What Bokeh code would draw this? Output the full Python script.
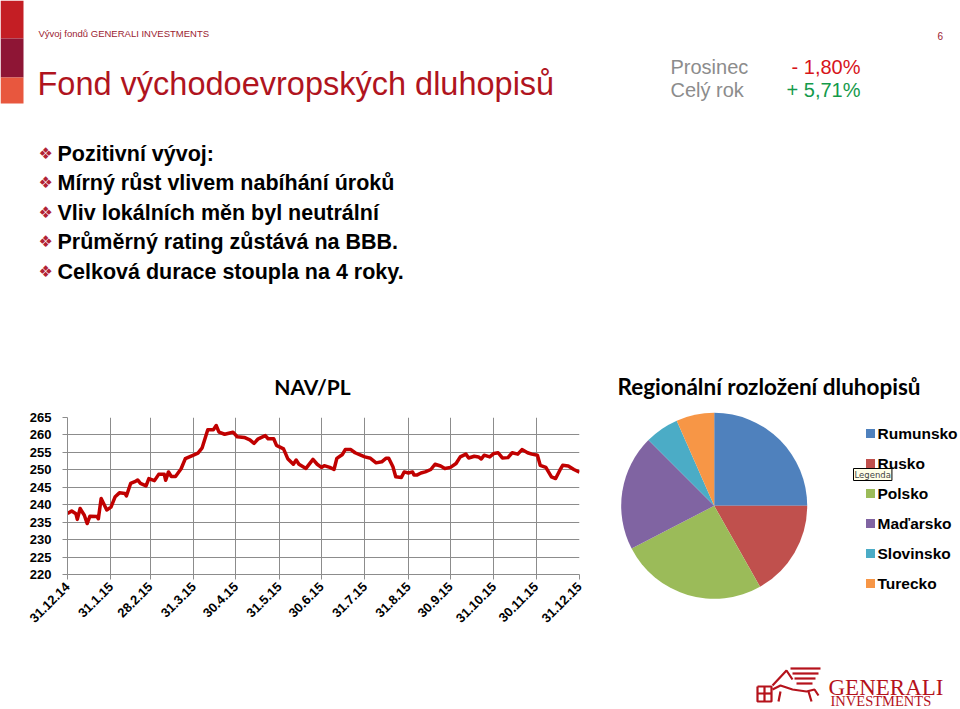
import numpy as np
import pandas as pd
from bokeh.plotting import figure
from bokeh.layouts import column, row
from bokeh.models import Range1d, FixedTicker, Label
from bokeh.core.properties import value
from bokeh.embed import file_html
from bokeh.resources import INLINE

# ---------------- data ----------------
header_small = "Vývoj fondů GENERALI INVESTMENTS"
page_title = "Fond východoevropských dluhopisů"
page_no = "6"
perf_labels = ["Prosinec", "Celý rok"]
perf_values = ["- 1,80%", "+ 5,71%"]
perf_colors = ["#D7141A", "#159A4B"]
bullets = [
    "Pozitivní vývoj:",
    "Mírný růst vlivem nabíhání úroků",
    "Vliv lokálních měn byl neutrální",
    "Průměrný rating zůstává na BBB.",
    "Celková durace stoupla na 4 roky.",
]
line_title = "NAV/PL"
pie_title = "Regionální rozložení dluhopisů"

# NAV/PL: days since 31.12.2014 and value
nav_days = [0, 3, 6, 7, 9, 12, 14, 16, 21, 22, 24, 28, 31, 34, 37, 41, 42, 45, 48, 50,
            52, 56, 58, 62, 65, 69, 70, 72, 74, 77, 81, 84, 89, 93, 96, 100, 104, 106, 108, 112,
            115, 118, 121, 126, 130, 133, 136, 141, 143, 147, 149, 154, 157, 161, 163, 165, 170, 175, 178, 181,
            183, 187, 190, 192, 196, 198, 202, 205, 209, 212, 216, 220, 224, 227, 229, 232, 234, 238, 240, 243,
            246, 247, 249, 252, 255, 259, 262, 266, 269, 273, 277, 280, 284, 286, 290, 293, 295, 297, 301, 304,
            307, 310, 314, 317, 321, 324, 328, 331, 335, 337, 341, 345, 348, 351, 353, 357, 361, 365]
nav_values = [237.5, 238.2, 237.4, 235.8, 238.9, 237.0, 234.6, 236.7, 236.6, 236.0, 241.8, 238.5, 239.3, 242.3, 243.4, 243.2, 242.5, 246.1, 246.6, 247.1,
              246.1, 245.4, 247.5, 246.9, 248.7, 248.7, 247.0, 249.4, 248.1, 248.1, 250.3, 253.2, 254.1, 254.8, 256.3, 261.5, 261.5, 262.7, 260.8, 260.2,
              260.5, 260.8, 259.5, 259.3, 258.6, 257.6, 258.9, 259.8, 258.9, 258.9, 257.0, 256.0, 253.2, 251.6, 252.8, 251.6, 250.4, 253.0, 251.6, 250.7,
              251.2, 250.7, 250.1, 253.3, 254.4, 255.8, 255.8, 254.9, 254.2, 253.7, 253.3, 252.0, 252.3, 253.3, 253.3, 250.9, 248.0, 247.8, 249.4, 249.1,
              249.4, 248.5, 248.5, 249.1, 249.4, 250.1, 251.6, 251.1, 250.4, 250.7, 251.8, 253.7, 254.5, 253.4, 253.9, 253.7, 253.1, 254.2, 253.7, 254.7,
              254.9, 253.4, 253.5, 254.9, 254.5, 255.8, 254.9, 254.5, 254.2, 251.3, 250.7, 248.0, 247.5, 249.9, 251.3, 251.1, 250.1, 249.3]
start_date = "2014-12-31"
tick_dates = ["2014-12-31", "2015-01-31", "2015-02-28", "2015-03-31", "2015-04-30", "2015-05-31", "2015-06-30",
              "2015-07-31", "2015-08-31", "2015-09-30", "2015-10-31", "2015-11-30", "2015-12-31"]
tick_labels = ["31.12.14", "31.1.15", "28.2.15", "31.3.15", "30.4.15", "31.5.15", "30.6.15",
               "31.7.15", "31.8.15", "30.9.15", "31.10.15", "30.11.15", "31.12.15"]
y_ticks = [220, 225, 230, 235, 240, 245, 250, 255, 260, 265]

regions = ["Rumunsko", "Rusko", "Polsko", "Maďarsko", "Slovinsko", "Turecko"]
shares = [25.0, 16.8, 25.6, 20.1, 5.9, 6.6]
region_colors = ["#4F81BD", "#C0504D", "#9BBB59", "#8064A2", "#4BACC6", "#F79646"]

SANS = value("Liberation Sans")

# ---------------- top text panel ----------------
top = figure(width=960, height=400, x_range=Range1d(0, 960), y_range=Range1d(400, 0),
             output_backend="svg", toolbar_location=None, min_border=0,
             x_axis_location=None, y_axis_location=None)
top.grid.visible = False
top.outline_line_color = None
top.frame_align = False

top.quad(left=0, right=23, top=[0, 38, 77], bottom=[38, 77, 103],
         color=["#C41E24", "#8E1535", "#E8573E"], line_color=None)
top.text(x=[38], y=[33], text=[header_small], text_font=SANS, text_font_size="9.5px",
         text_color="#9B1B30", text_baseline="middle")
top.text(x=[937], y=[35], text=[page_no], text_font=SANS, text_font_size="10px",
         text_color="#9B1B30", text_baseline="middle")
top.text(x=[37], y=[83], text=[page_title], text_font=SANS, text_font_size="32.5px",
         text_color="#B0141E", text_baseline="middle")
top.text(x=[670, 670], y=[66, 89], text=perf_labels, text_font=SANS, text_font_size="20px",
         text_color="#8C8C8C", text_baseline="middle")
top.text(x=[860, 860], y=[66, 89], text=perf_values, text_font=SANS, text_font_size="20px",
         text_color=perf_colors, text_baseline="middle", text_align="right")
bullet_y = [153, 182, 212, 241, 271]
top.text(x=[38] * len(bullets), y=bullet_y, text=["❖"] * len(bullets), text_font=value("DejaVu Sans"),
         text_font_size="16px", text_color="#B22234", text_baseline="middle")
top.text(x=[57] * len(bullets), y=bullet_y, text=bullets, text_font=SANS, text_font_size="21.5px",
         text_font_style="bold", text_color="#000000", text_baseline="middle")
top.text(x=[312], y=[386], text=[line_title], text_font=value("Lato"), text_font_size="21px",
         text_font_style="bold", text_color="#000000", text_baseline="middle", text_align="center")
top.text(x=[617], y=[386], text=[pie_title], text_font=value("Lato"), text_font_size="22.5px",
         text_font_style="bold", text_color="#000000", text_baseline="middle")

# ---------------- line chart ----------------
start = pd.Timestamp(start_date)
tick_pos = [int((pd.Timestamp(d) - start).days) for d in tick_dates]

lp = figure(width=600, height=309, x_range=Range1d(0, tick_pos[-1]), y_range=Range1d(y_ticks[0], y_ticks[-1]),
            output_backend="svg", toolbar_location=None,
            min_border_left=67, min_border_right=21, min_border_top=17, min_border_bottom=135)
lp.frame_align = False
lp.outline_line_color = None
lp.xaxis.ticker = FixedTicker(ticks=tick_pos)
lp.xaxis.major_label_overrides = {p: l for p, l in zip(tick_pos, tick_labels)}
lp.xaxis.major_label_orientation = np.pi / 4
lp.yaxis.ticker = FixedTicker(ticks=y_ticks)
for ax in (lp.xaxis, lp.yaxis):
    ax.axis_line_color = "#8C8C8C"
    ax.major_tick_line_color = "#8C8C8C"
    ax.minor_tick_line_color = None
    ax.major_tick_out = 5
    ax.major_tick_in = 0
    ax.major_label_text_font = "Liberation Sans"
    ax.major_label_text_font_style = "bold"
    ax.major_label_text_font_size = "13px"
    ax.major_label_text_color = "#000000"
lp.yaxis.major_label_standoff = 11
lp.xaxis.major_label_standoff = 5
lp.xgrid.ticker = FixedTicker(ticks=tick_pos)
lp.ygrid.ticker = FixedTicker(ticks=y_ticks)
lp.grid.grid_line_color = "#8C8C8C"
lp.grid.grid_line_width = 1
lp.line(nav_days, nav_values, line_color="#C00000", line_width=3.5, line_join="round")

# ---------------- pie chart ----------------
pp = figure(width=360, height=309, x_range=Range1d(600, 960), y_range=Range1d(709, 400),
            output_backend="svg", toolbar_location=None, min_border=0,
            x_axis_location=None, y_axis_location=None)
pp.frame_align = False
pp.grid.visible = False
pp.outline_line_color = None

frac = np.array(shares) / np.sum(shares)
cum = np.concatenate([[0], np.cumsum(frac)])
start_angle = np.pi / 2 - cum[1:] * 2 * np.pi
end_angle = np.pi / 2 - cum[:-1] * 2 * np.pi
pp.wedge(x=713.7, y=505.3, radius=93, start_angle=start_angle, end_angle=end_angle,
         fill_color=region_colors, line_color=None)

leg_y = [433 + 30 * i for i in range(len(regions))]
pp.scatter(x=[870] * len(regions), y=leg_y, marker="square", size=9, fill_color=region_colors, line_color=None)
pp.text(x=[877] * len(regions), y=leg_y, text=regions, text_font=SANS, text_font_size="15.5px",
        text_font_style="bold", text_color="#000000", text_baseline="middle")
pp.add_layout(Label(x=853, y=474, text="Legenda", text_font="DejaVu Sans", text_font_size="8.5px",
                    text_baseline="middle", border_line_color="#000000", background_fill_color="#FFFFE8",
                    border_line_width=1, padding=1))

# logo
pp.text(x=[828], y=[687], text=["GENERALI"], text_font=value("Liberation Serif"), text_font_size="23px",
        text_color="#B5121B", text_baseline="alphabetic")
pp.text(x=[830], y=[700], text=["INVESTMENTS"], text_font=value("Liberation Serif"), text_font_size="14.5px",
        text_color="#B5121B", text_baseline="alphabetic")
pp.multi_line(xs=[[757, 771, 771, 757, 757], [757, 771], [764, 764],
                  [790, 820], [792, 818], [794, 815], [796, 812],
                  [772, 780, 792, 806, 814, 818], [780, 778], [808, 811], [772, 786, 792]],
              ys=[[686, 686, 701, 701, 686], [693, 693], [686, 701],
                  [668, 668], [673, 673], [678, 678], [683, 683],
                  [689, 685, 689, 691, 689, 695], [691, 701], [691, 701], [685, 670, 679]],
              line_color="#B5121B", line_width=2.2)

layout = column(top, row(lp, pp, spacing=0), spacing=0)
open("out.html", "w").write(file_html(layout, INLINE))
